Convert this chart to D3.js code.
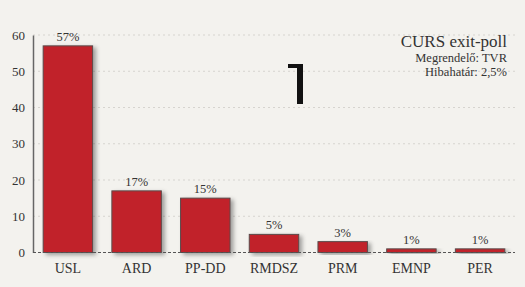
<!DOCTYPE html>
<html>
<head>
<meta charset="utf-8">
<script src="https://cdn.jsdelivr.net/npm/d3@7"></script>
<style>
  body { margin: 0; background: #f3f2ee; }
  svg { display: block; }
</style>
</head>
<body>
<div id="chart"></div>
<script>
const parties = ['USL', 'ARD', 'PP-DD', 'RMDSZ', 'PRM', 'EMNP', 'PER']
const shares  = [57, 17, 15, 5, 3, 1, 1]
const yTicks  = [0, 10, 20, 30, 40, 50, 60]
const titleLines = ['CURS exit-poll', 'Megrendelő: TVR', 'Hibahatár: 2,5%']

const W = 525, H = 287
const SERIF = "'Liberation Serif', 'Times New Roman', serif"

let svg = d3.select('#chart').append('svg')
  .attr('width', W).attr('height', H)
  .attr('font-family', SERIF)

svg.append('rect').attr('width', W).attr('height', H).attr('fill', '#f3f2ee')

// soft shadow under the bars
let defs = svg.append('defs')
let f = defs.append('filter').attr('id', 'shadow')
  .attr('x', '-10%').attr('y', '-10%').attr('width', '130%').attr('height', '130%')
f.append('feDropShadow')
  .attr('dx', 3).attr('dy', 2).attr('stdDeviation', 2)
  .attr('flood-color', '#000').attr('flood-opacity', 0.35)

let x = d3.scaleBand().domain(parties).range([33, 515])
          .paddingInner(0.28).paddingOuter(0.148)
let y = d3.scaleLinear().domain([0, 60]).range([252.5, 35])

// grid
svg.append('g')
  .selectAll('line')
  .data(yTicks.filter(d => d > 0))
  .enter().append('line')
  .attr('x1', 33).attr('x2', 515)
  .attr('y1', d => y(d)).attr('y2', d => y(d))
  .attr('stroke', '#d6d4cf').attr('stroke-width', 1)
  .attr('stroke-dasharray', '2,3')

// y axis
let yAxis = svg.append('g')
  .attr('transform', 'translate(33,0)')
  .call(d3.axisLeft(y).tickValues(yTicks).tickSize(0).tickPadding(8))
  .attr('font-family', SERIF)
yAxis.select('.domain').attr('stroke', '#666').attr('stroke-width', 1.5)
yAxis.selectAll('text').attr('font-size', 13).attr('fill', '#333')

// bars
svg.append('g')
  .selectAll('rect')
  .data(shares)
  .enter().append('rect')
  .attr('x', (d, i) => x(parties[i]))
  .attr('width', x.bandwidth())
  .attr('y', d => y(d))
  .attr('height', d => y(0) - y(d))
  .attr('fill', '#c1222b')
  .attr('stroke', '#5a4a4a').attr('stroke-width', 1)
  .attr('filter', 'url(#shadow)')

// baseline
svg.append('line')
  .attr('x1', 33).attr('x2', 515)
  .attr('y1', y(0)).attr('y2', y(0))
  .attr('stroke', '#555').attr('stroke-width', 1.2)
  .attr('stroke-dasharray', '3,2')

// value labels
svg.append('g')
  .selectAll('text')
  .data(shares)
  .enter().append('text')
  .attr('x', (d, i) => x(parties[i]) + x.bandwidth() / 2)
  .attr('y', d => y(d) - 5)
  .attr('text-anchor', 'middle')
  .attr('font-size', 12.5)
  .attr('fill', '#333')
  .text(d => `${d}%`)

// category labels
let xAxis = svg.append('g')
  .attr('transform', `translate(0,${y(0)})`)
  .call(d3.axisBottom(x).tickSize(0).tickPadding(11))
  .attr('font-family', SERIF)
xAxis.select('.domain').remove()
xAxis.selectAll('text').attr('font-size', 14).attr('fill', '#333')

// title block
svg.append('g')
  .selectAll('text')
  .data(titleLines)
  .enter().append('text')
  .attr('x', 507)
  .attr('y', (d, i) => [47, 62, 76][i])
  .attr('text-anchor', 'end')
  .attr('font-size', (d, i) => i === 0 ? 17 : 12.5)
  .attr('fill', '#333')
  .text(d => d)

// stray mark in the plot area
svg.append('path')
  .attr('d', 'M288,64 H303 V104 H297 V68 H288 Z')
  .attr('fill', '#111')
</script>
</body>
</html>
